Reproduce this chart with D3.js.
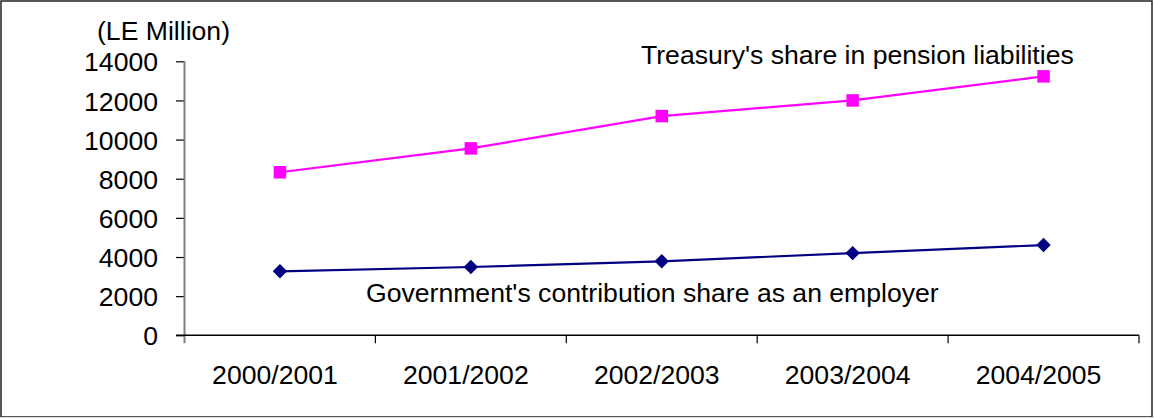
<!DOCTYPE html>
<html>
<head>
<meta charset="utf-8">
<script src="https://cdn.jsdelivr.net/npm/d3@7"></script>
<style>
  html, body { margin: 0; padding: 0; background: #fff; }
  svg { display: block; font-family: "Liberation Sans", Arial, sans-serif; }
</style>
</head>
<body>
<svg id="chart" width="1154" height="419"></svg>
<script>
const categories = ["2000/2001", "2001/2002", "2002/2003", "2003/2004", "2004/2005"];
const treasuryShare = [8330, 9550, 11200, 12000, 13230];
const governmentShare = [3270, 3490, 3780, 4200, 4610];
const yTicks = [0, 2000, 4000, 6000, 8000, 10000, 12000, 14000];
const unitLabel = "(LE Million)";
const treasuryLabel = "Treasury's share in pension liabilities";
const governmentLabel = "Government's contribution share as an employer";

(function () {
const svg = d3.select("#chart");
const W = 1154, H = 419;
const pLeft = 184.5, pRight = 1139, pTop = 61.3, pBottom = 335.3;
const FS = "26.6px";

// outer frame
svg.append("rect").attr("x", 1).attr("y", 1).attr("width", W - 3).attr("height", H - 3)
  .attr("fill", "none").attr("stroke", "#222").attr("stroke-width", 1.5);
svg.append("line").attr("x1", 0).attr("x2", W).attr("y1", H - 1.5).attr("y2", H - 1.5)
  .attr("stroke", "#ddd").attr("stroke-width", 1);

const x = d3.scaleBand().domain(categories).range([pLeft, pRight]).padding(0);
const y = d3.scaleLinear().domain([0, 14000]).range([pBottom, pTop]);

// Y axis
const yAxis = svg.append("g").attr("transform", `translate(${pLeft},0)`)
  .call(d3.axisLeft(y).tickValues(yTicks).tickSize(8.5).tickPadding(18).tickFormat(d3.format("d")));
yAxis.select(".domain").remove();
yAxis.selectAll(".tick line").attr("stroke", "#000").attr("stroke-width", 1.2);
yAxis.selectAll("text").attr("font-size", FS).attr("fill", "#000")
  .attr("font-family", "'Liberation Sans', Arial, sans-serif").attr("dy", "0.36em");
svg.append("line").attr("x1", pLeft).attr("x2", pLeft).attr("y1", pTop).attr("y2", pBottom + 8)
  .attr("stroke", "#808080").attr("stroke-width", 2);

// X axis
const xAxis = svg.append("g").attr("transform", `translate(0,${pBottom})`)
  .call(d3.axisBottom(x).tickSize(0).tickPadding(0));
xAxis.select(".domain").remove();
xAxis.selectAll("text").attr("font-size", FS).attr("fill", "#000")
  .attr("font-family", "'Liberation Sans', Arial, sans-serif")
  .attr("dx", "-5").attr("y", 49).attr("dy", 0);
svg.append("line").attr("x1", pLeft - 8.5).attr("x2", pRight).attr("y1", pBottom).attr("y2", pBottom)
  .attr("stroke", "#000").attr("stroke-width", 1.5);
const bounds = categories.map(c => x(c)).concat([pRight]);
svg.selectAll(".xtick").data(bounds.slice(1)).enter().append("line")
  .attr("x1", d => d).attr("x2", d => d).attr("y1", pBottom).attr("y2", pBottom + 8)
  .attr("stroke", "#000").attr("stroke-width", 1.2);

const cx = c => x(c) + x.bandwidth() / 2;
const line = d3.line().x(d => cx(d.c)).y(d => y(d.v));

function series(values, color, symbol, size, rot) {
  const data = categories.map((c, i) => ({ c, v: values[i] }));
  svg.append("path").datum(data).attr("d", line).attr("fill", "none")
    .attr("stroke", color).attr("stroke-width", 2.2);
  svg.selectAll(null).data(data).enter().append("path")
    .attr("d", d3.symbol().type(symbol).size(size))
    .attr("transform", d => `translate(${cx(d.c)},${y(d.v)}) rotate(${rot})`)
    .attr("fill", color);
}
series(treasuryShare, "#FF00FF", d3.symbolSquare, 156, 0);
series(governmentShare, "#000080", d3.symbolSquare, 104, 45);

// text labels
const txt = (s, tx, ty) => svg.append("text").attr("x", tx).attr("y", ty)
  .attr("font-size", FS).attr("fill", "#000").text(s);
txt(unitLabel, 97, 39.5);
txt(treasuryLabel, 641, 64);
txt(governmentLabel, 366, 302);
})();
</script>
</body>
</html>
